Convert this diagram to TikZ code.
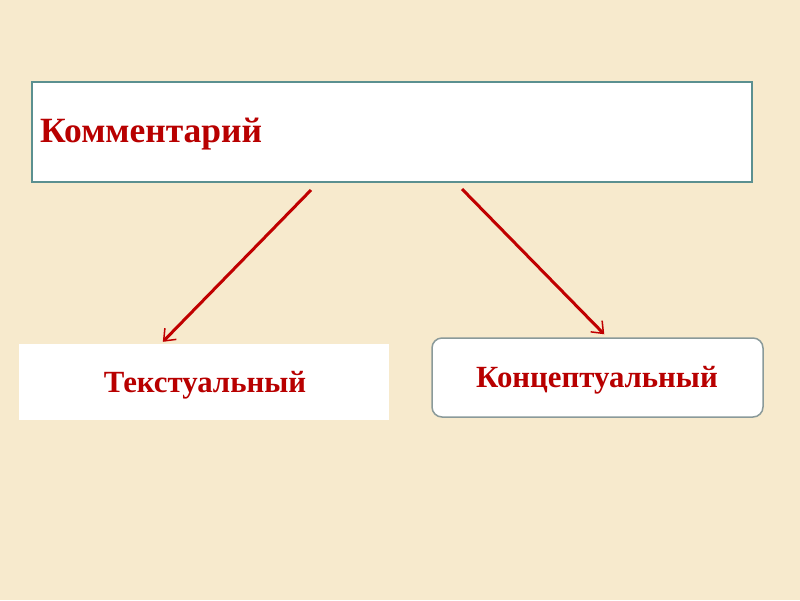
\documentclass[tikz,border=0pt]{standalone}
\usepackage{fontspec}
\setmainfont{Liberation Serif}
\usetikzlibrary{arrows.meta,calc}
\definecolor{bgc}{HTML}{F7EACD}
\definecolor{txtred}{HTML}{B80000}
\definecolor{arrred}{HTML}{C00000}
\definecolor{tealb}{HTML}{5B9090}
\definecolor{grayb}{HTML}{8A9A9A}
\tikzset{
  box/.style={draw=tealb, line width=2pt, fill=white, minimum width=720pt, minimum height=100pt, inner sep=0pt},
  plainbox/.style={fill=white, minimum width=370pt, minimum height=76pt, inner sep=0pt},
  roundbox/.style={draw=grayb, line width=1.5pt, fill=white, rounded corners=10pt, minimum width=331pt, minimum height=79pt, inner sep=0pt},
  lbl/.style={text=txtred, font=\bfseries\fontsize{35.5}{40}\selectfont, inner sep=0pt},
  lbls/.style={text=txtred, font=\bfseries\fontsize{30.8}{36}\selectfont, inner sep=0pt},
  conn/.style={draw=arrred, line width=3pt, -{Straight Barb[length=10pt,width=16pt,line width=1.5pt]}}
}
\begin{document}
\begin{tikzpicture}[x=1pt,y=-1pt]
\fill[bgc] (0,0) rectangle (800,600);
\useasboundingbox (0,0) rectangle (800,600);
\node[box] (top) at (392,132) {};
\node[lbl, anchor=west] (toptext) at (40,134) {Комментарий};
\node[plainbox] (left) at (204,382) {};
\node[lbls] (lefttext) at (205,385) {Текстуальный};
\node[roundbox] (right) at (597.5,377.5) {};
\node[lbls] (righttext) at (597,380) {Концептуальный};
\draw[conn] ($(top.south west)+(280,7)$) -- ($(left.north west)+(144,-2)$);
\draw[conn] ($(top.south west)+(431,6)$) -- ($(right.north west)+(173,-3)$);
\end{tikzpicture}
\end{document}
